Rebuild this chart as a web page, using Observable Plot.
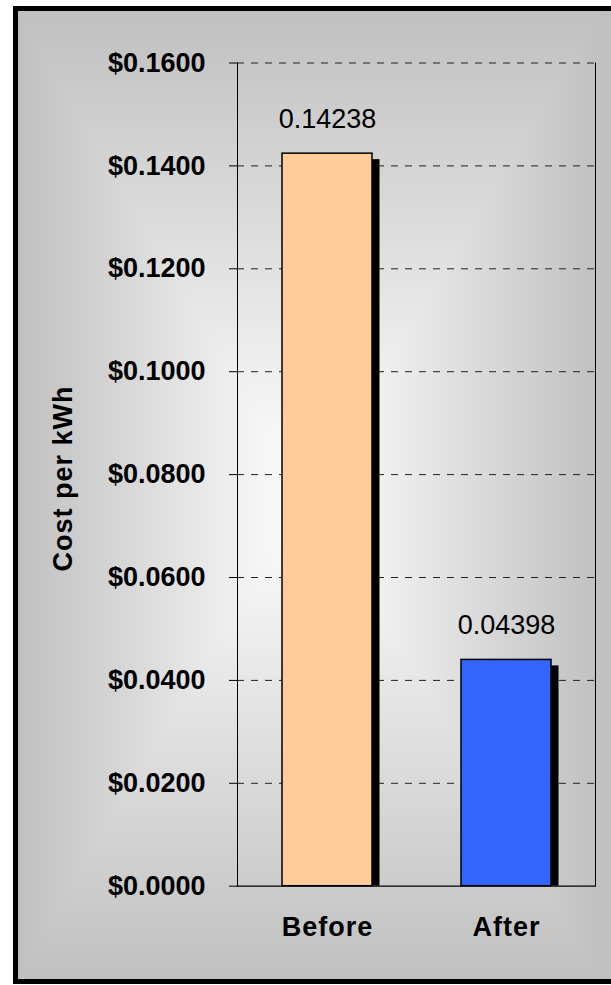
<!DOCTYPE html>
<html>
<head>
<meta charset="utf-8">
<script src="https://cdn.jsdelivr.net/npm/d3@7"></script>
<script src="https://cdn.jsdelivr.net/npm/@observablehq/plot@0.6"></script>
<style>
  html, body { margin: 0; padding: 0; width: 611px; height: 985px; overflow: hidden; background: #fff; }
  /* bordered panel with a centre-out grey gradient behind the plot */
  #panel {
    position: absolute; left: 13px; top: 6px; width: 640px; height: 978px;
    box-sizing: border-box; border: 5px solid #000;
    background-image:
      linear-gradient(to right, #c0c0c0 0px, #ffffff 292px, #c0c0c0 584px),
      linear-gradient(to bottom, #c0c0c0 0%, #ffffff 50%, #c0c0c0 100%);
    background-blend-mode: darken;
  }
  #chart { position: absolute; left: 0; top: 0; }
</style>
</head>
<body>
<div id="panel"></div>
<div id="chart"></div>
<script>
// Cost per kWh, before and after
const periods = ["Before", "After"];
const costs = [0.14238, 0.04398];
const barColors = ["#FFCC99", "#3366FF"];
const yTicks = [0, 0.02, 0.04, 0.06, 0.08, 0.10, 0.12, 0.14, 0.16];
const axisTitle = "Cost per kWh";

const rows = periods.map((p, i) => ({period: p, cost: costs[i]}));

const chart = Plot.plot({
  width: 611,
  height: 985,
  marginLeft: 237,
  marginRight: 16,
  marginTop: 62.5,
  marginBottom: 99.3,
  style: {
    background: "transparent",
    fontFamily: "'Liberation Sans', Arial, sans-serif",
    fontSize: "27px",
    fontWeight: "bold",
    color: "#000"
  },
  x: {
    domain: periods,
    paddingInner: 0.5,
    paddingOuter: 0.25,
    tickSize: 0,
    tickPadding: 31,
    label: null
  },
  y: {
    domain: [0, 0.16],
    ticks: yTicks,
    tickFormat: d => "$" + d.toFixed(4),
    tickSize: 8,
    tickPadding: 24,
    label: null
  },
  color: {domain: periods, range: barColors},
  marks: [
    Plot.ruleY(yTicks.filter(v => v > 0), {stroke: "#222", strokeWidth: 1, strokeDasharray: "7,7"}),
    // drop shadow behind each bar
    Plot.barY(rows, {x: "period", y: "cost", fill: "#000", dx: 7.5, dy: 6, insetBottom: 6}),
    Plot.barY(rows, {x: "period", y: "cost", fill: "period", stroke: "#000", strokeWidth: 1.5}),
    Plot.ruleY([0], {stroke: "#000", strokeWidth: 1.2}),
    Plot.frame({anchor: "left", stroke: "#000"}),
    Plot.frame({anchor: "right", stroke: "#000"}),
    Plot.text(rows, {
      x: "period", y: "cost", text: d => d.cost.toFixed(5),
      lineAnchor: "bottom", dy: -26, fontWeight: "normal", fontSize: 27
    }),
    Plot.text([axisTitle], {
      frameAnchor: "left", textAnchor: "middle", rotate: -90,
      dx: -174.5, dy: 4, fontWeight: "bold", fontSize: 27
    })
  ]
});

// slightly spaced lettering for the category labels and the axis title
d3.select(chart).selectAll("text")
  .filter(function () { return periods.includes(this.textContent) || this.textContent === axisTitle; })
  .style("letter-spacing", "1px");

document.getElementById("chart").appendChild(chart);
</script>
</body>
</html>
